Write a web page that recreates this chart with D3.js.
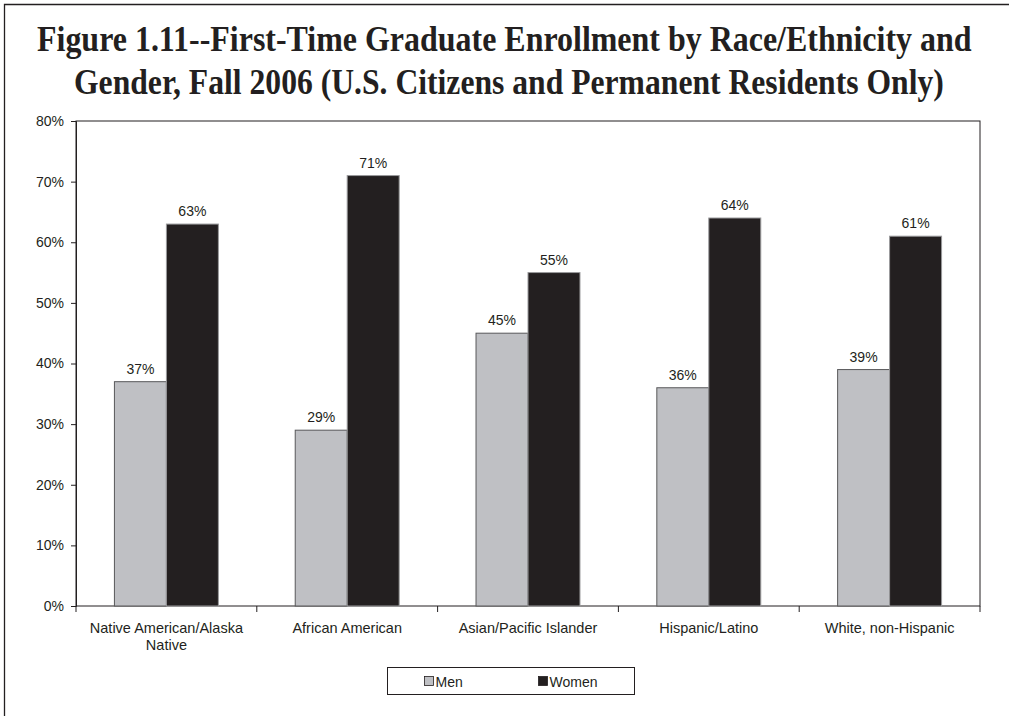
<!DOCTYPE html>
<html>
<head>
<meta charset="utf-8">
<script src="https://cdn.jsdelivr.net/npm/d3@7"></script>
<style>
  html, body { margin: 0; padding: 0; background: #fff; overflow: hidden; }
  svg { display: block; }
</style>
</head>
<body>
<svg id="chart" width="1009" height="716"></svg>
<script>
// Enrollment shares by race/ethnicity, split by gender
const categories = [
  ["Native American/Alaska", "Native"],
  ["African American"],
  ["Asian/Pacific Islander"],
  ["Hispanic/Latino"],
  ["White, non-Hispanic"]
];
const seriesNames = ["Men", "Women"];
const men   = [37, 29, 45, 36, 39];
const women = [63, 71, 55, 64, 61];
const yTicks = [0, 10, 20, 30, 40, 50, 60, 70, 80];
const titleLines = [
  "Figure 1.11--First-Time Graduate Enrollment by Race/Ethnicity and",
  "Gender, Fall 2006 (U.S. Citizens and Permanent Residents Only)"
];

const colors = { Men: "#bfc0c4", Women: "#231f20" };
const ink = "#231f20";
const sans = "'Liberation Sans', Arial, sans-serif";

const svg = d3.select("#chart");

// outer frame: top and left edges only, the rest runs off the page
svg.append("path")
  .attr("d", "M4.5,716V4.5H1009")
  .attr("fill", "none").attr("stroke", ink).attr("stroke-width", 1.3);

// title, bold serif squeezed horizontally to fit its line
const titleSpans = [
  { x: 37, y: 51, w: 935 },
  { x: 74, y: 94, w: 870 }
];
svg.append("g").selectAll("text").data(titleLines).join("text")
  .attr("x", 0).attr("y", 0)
  .attr("font-family", "'Liberation Serif', 'Times New Roman', serif")
  .attr("font-weight", "bold")
  .attr("font-size", 35)
  .attr("fill", ink)
  .text(d => d)
  .each(function(d, i) {
    const natural = this.getComputedTextLength();
    const s = titleSpans[i];
    d3.select(this).attr("transform", `translate(${s.x},${s.y}) scale(${s.w / natural},1)`);
  });

const plot = { left: 76, right: 980, top: 121, bottom: 606 };

const rows = categories.map((c, i) => ({ key: i, label: c, Men: men[i], Women: women[i] }));

const x0 = d3.scaleBand()
  .domain(rows.map(d => d.key))
  .range([plot.left, plot.right])
  .paddingInner(0.425)
  .paddingOuter(0.2125);

const x1 = d3.scaleBand()
  .domain(seriesNames)
  .range([0, x0.bandwidth()]);

const y = d3.scaleLinear()
  .domain([0, 80])
  .range([plot.bottom, plot.top]);

// plot area border
svg.append("rect")
  .attr("x", plot.left).attr("y", plot.top)
  .attr("width", plot.right - plot.left).attr("height", plot.bottom - plot.top)
  .attr("fill", "none").attr("stroke", ink).attr("stroke-width", 1);

// y axis
const yAxis = svg.append("g")
  .attr("transform", `translate(${plot.left},0)`)
  .call(d3.axisLeft(y).tickValues(yTicks).tickSize(5).tickPadding(7).tickFormat(d => d + "%"));
yAxis.select(".domain").attr("stroke", ink);
yAxis.selectAll(".tick line").attr("stroke", ink);
yAxis.selectAll(".tick text")
  .attr("font-family", sans)
  .attr("font-size", 14).attr("fill", ink);

// x axis ticks at category boundaries
const step = x0.step();
const boundaries = d3.range(categories.length + 1).map(i => plot.left + i * step);
svg.append("g").selectAll("line").data(boundaries).join("line")
  .attr("x1", d => d).attr("x2", d => d)
  .attr("y1", plot.bottom).attr("y2", plot.bottom + 6)
  .attr("stroke", ink);

// category labels
const catLabels = svg.append("g")
  .attr("font-family", sans)
  .attr("font-size", 14.5).attr("fill", ink).attr("text-anchor", "middle");
rows.forEach(r => {
  const cx = x0(r.key) + x0.bandwidth() / 2;
  const t = catLabels.append("text");
  r.label.forEach((line, i) => {
    t.append("tspan").attr("x", cx).attr("y", 633 + i * 17).text(line);
  });
});

// bars
const groups = svg.append("g").selectAll("g").data(rows).join("g")
  .attr("transform", d => `translate(${x0(d.key)},0)`);

groups.selectAll("rect")
  .data(d => seriesNames.map(s => ({ s, v: d[s] })))
  .join("rect")
  .attr("x", d => x1(d.s))
  .attr("y", d => y(d.v))
  .attr("width", x1.bandwidth())
  .attr("height", d => y(0) - y(d.v))
  .attr("fill", d => colors[d.s])
  .attr("stroke", d => d.s === "Men" ? "#58585a" : "#9a9a9c")
  .attr("stroke-width", 1);

// value labels
groups.selectAll("text")
  .data(d => seriesNames.map(s => ({ s, v: d[s] })))
  .join("text")
  .attr("x", d => x1(d.s) + x1.bandwidth() / 2)
  .attr("y", d => y(d.v) - 8)
  .attr("text-anchor", "middle")
  .attr("font-family", sans)
  .attr("font-size", 14).attr("fill", ink)
  .text(d => d.v + "%");

// legend
const legend = svg.append("g").attr("transform", "translate(387.5,667.5)");
legend.append("rect")
  .attr("width", 247).attr("height", 27)
  .attr("fill", "#fff").attr("stroke", ink).attr("stroke-width", 1);
const legendX = [37, 151];
seriesNames.forEach((s, i) => {
  legend.append("rect")
    .attr("x", legendX[i]).attr("y", 9)
    .attr("width", 9).attr("height", 9)
    .attr("fill", colors[s]).attr("stroke", ink).attr("stroke-width", 0.8);
  legend.append("text")
    .attr("x", legendX[i] + 11).attr("y", 19)
    .attr("font-family", sans)
    .attr("font-size", 14).attr("fill", ink)
    .text(s);
});
</script>
</body>
</html>
